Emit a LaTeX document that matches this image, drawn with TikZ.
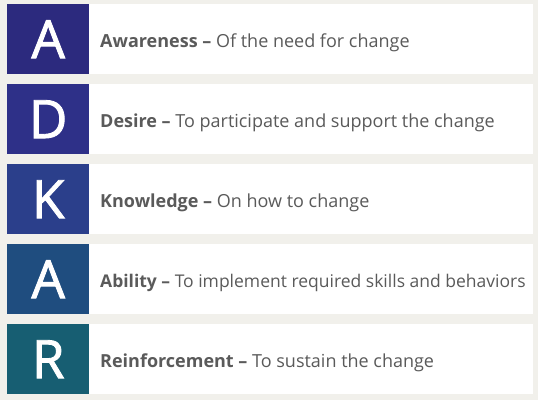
\documentclass[tikz,border=0pt]{standalone}
\usepackage{fontspec}
\setmainfont{Open Sans}
\newfontfamily\letterfont{Open Sans}[FakeBold=1.6]
\definecolor{bg}{HTML}{F1F0EB}
\definecolor{txt}{HTML}{5A5A5A}
\definecolor{cA}{HTML}{2C2A7E}
\definecolor{cD}{HTML}{2E3088}
\definecolor{cK}{HTML}{2B3F8B}
\definecolor{cA2}{HTML}{1F4D7F}
\definecolor{cR}{HTML}{175E72}
\begin{document}
\begin{tikzpicture}[x=1pt,y=-1pt,
  letterbox/.style={fill=#1, draw=none, minimum width=82pt, minimum height=70pt, inner sep=0pt, anchor=north west, text=white, font=\letterfont\fontsize{53}{53}\selectfont},
  panel/.style={fill=white, draw=none, minimum width=444pt, minimum height=70pt, inner sep=0pt, anchor=north west},
  label/.style={anchor=base west, text=txt, inner sep=0pt, font=\fontsize{#1}{20}\selectfont}]
\fill[bg] (0,0) rectangle (538,400);
\useasboundingbox (0,0) rectangle (538,400);
\foreach \i/\L/\c/\B/\T/\s in {0/A/cA/Awareness/Of the need for change/18,
  1/D/cD/Desire/To participate and support the change/18,
  2/K/cK/Knowledge/On how to change/18,
  3/A/cA2/Ability/To implement required skills and behaviors/17.5,
  4/R/cR/Reinforcement/To sustain the change/18}{
  \node[panel] (p\i) at (89,4+80*\i) {};
  \node[letterbox=\c] (b\i) at (7,4+80*\i) {\L};
  \node[label=\s] (t\i) at (100,47.5+80*\i) {\textbf{\B\ –} \T};
}
\end{tikzpicture}
\end{document}
